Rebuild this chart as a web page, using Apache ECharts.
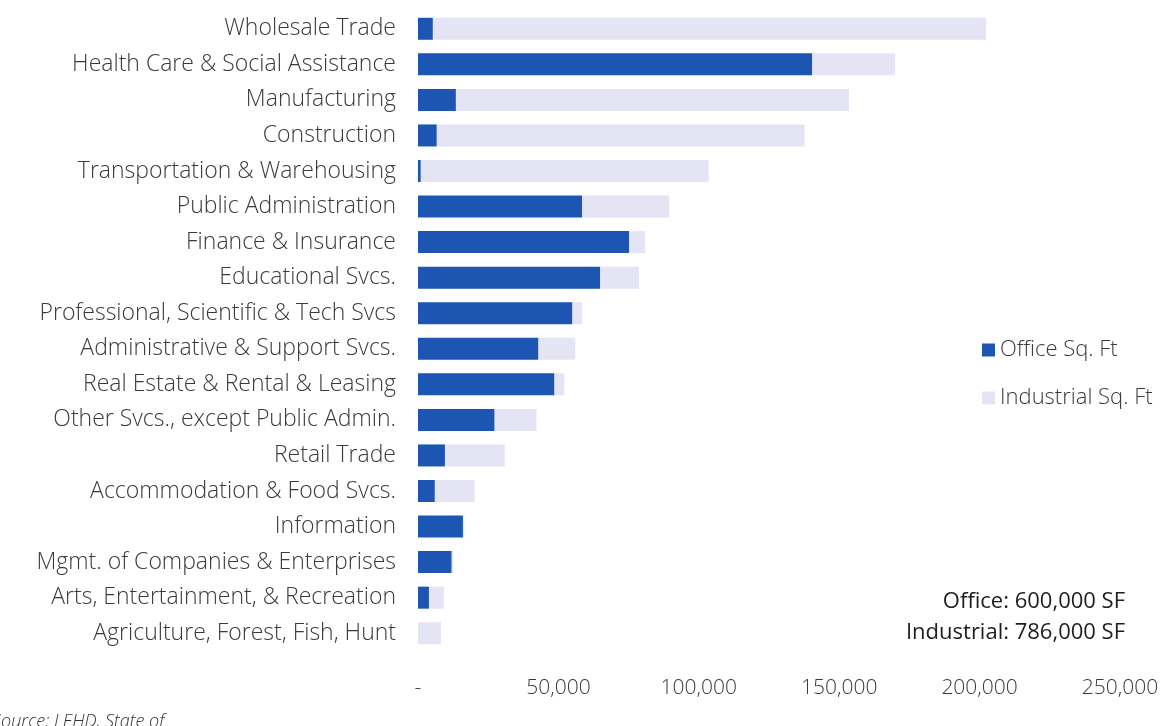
<!DOCTYPE html>
<html>
<head>
<meta charset="utf-8">
<script src="https://cdn.jsdelivr.net/npm/echarts@6/dist/echarts.min.js"></script>
<style>
html,body{margin:0;padding:0;background:#fff;}
#chart{width:1166px;height:726px;}
</style>
</head>
<body>
<div id="chart"></div>
<script>
const categories = [
  "Wholesale Trade",
  "Health Care & Social Assistance",
  "Manufacturing",
  "Construction",
  "Transportation & Warehousing",
  "Public Administration",
  "Finance & Insurance",
  "Educational Svcs.",
  "Professional, Scientific & Tech Svcs",
  "Administrative & Support Svcs.",
  "Real Estate & Rental & Leasing",
  "Other Svcs., except Public Admin.",
  "Retail Trade",
  "Accommodation & Food Svcs.",
  "Information",
  "Mgmt. of Companies & Enterprises",
  "Arts, Entertainment, & Recreation",
  "Agriculture, Forest, Fish, Hunt"
];
const officeSqFt = [5300, 140400, 13500, 6700, 1000, 58500, 75200, 64900, 55000, 42900, 48600, 27300, 9600, 6000, 16000, 12000, 3900, 0];
const industrialSqFt = [197000, 29500, 140000, 131000, 102500, 31000, 5700, 13800, 3500, 13100, 3500, 14900, 21300, 14200, 500, 500, 5300, 8200];
const seriesNames = ["Office Sq. Ft", "Industrial Sq. Ft"];
const totals = ["Office: 600,000 SF", "Industrial: 786,000 SF"];
const sourceNote = "Source: LEHD, State of";

const FONT = "'Open Sans', 'Noto Sans', sans-serif";
const chart = echarts.init(document.getElementById('chart'));
chart.setOption({
  backgroundColor: '#ffffff',
  animation: false,
  grid: { left: 418, right: 46, top: 11, bottom: 75, containLabel: false },
  legend: {
    orient: 'vertical',
    left: 977,
    top: 334,
    itemGap: 26,
    itemWidth: 13,
    itemHeight: 13,
    icon: 'rect',
    textStyle: { fontFamily: FONT, fontWeight: 300, fontSize: 22, color: '#3a3a3a' },
    data: seriesNames
  },
  xAxis: {
    type: 'value',
    min: 0,
    max: 250000,
    interval: 50000,
    axisLine: { show: false },
    axisTick: { show: false },
    splitLine: { show: false },
    axisLabel: {
      margin: 27,
      fontFamily: FONT,
      fontWeight: 300,
      fontSize: 21,
      color: '#3a3a3a',
      formatter: v => v === 0 ? '-' : v.toLocaleString('en-US')
    }
  },
  yAxis: {
    type: 'category',
    inverse: true,
    data: categories,
    axisLine: { show: false },
    axisTick: { show: false },
    axisLabel: {
      margin: 22,
      fontFamily: FONT,
      fontWeight: 300,
      fontSize: 23,
      color: '#3a3a3a'
    }
  },
  series: [
    {
      name: seriesNames[0],
      type: 'bar',
      stack: 'total',
      barWidth: 22,
      itemStyle: { color: '#1c55b2' },
      data: officeSqFt
    },
    {
      name: seriesNames[1],
      type: 'bar',
      stack: 'total',
      barWidth: 22,
      itemStyle: { color: '#e4e4f4' },
      data: industrialSqFt
    }
  ],
  graphic: [
    {
      type: 'text', right: 41, top: 591,
      style: { text: totals[0], font: "400 22px " + FONT, fill: '#1e1e1e', textAlign: 'right' }
    },
    {
      type: 'text', right: 41, top: 622,
      style: { text: totals[1], font: "400 22px " + FONT, fill: '#1e1e1e', textAlign: 'right' }
    },
    {
      type: 'text', left: -8, top: 713,
      style: { text: sourceNote, font: "italic 300 18px " + FONT, fill: '#333' }
    }
  ]
});
</script>
</body>
</html>
